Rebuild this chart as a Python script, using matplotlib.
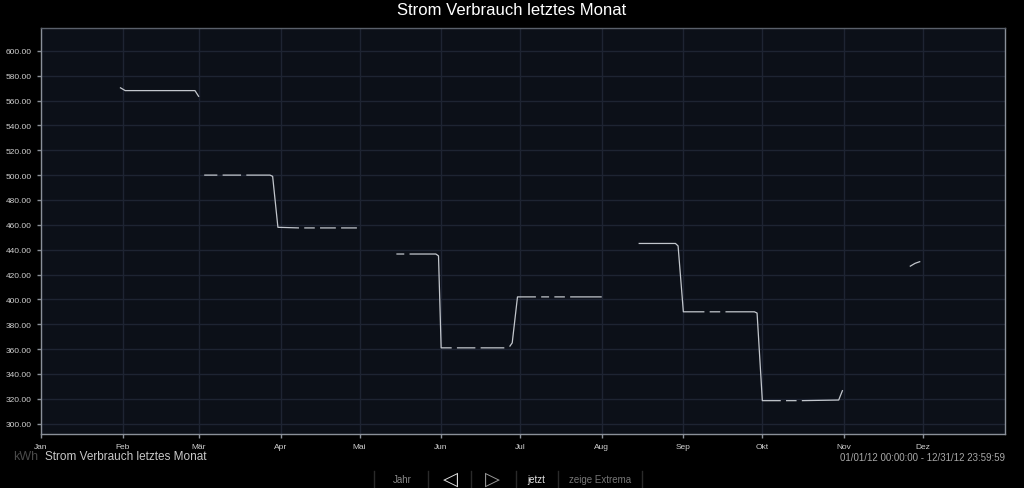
import numpy as np
import pandas as pd
import matplotlib
matplotlib.use("Agg")
import matplotlib.pyplot as plt

nan = np.nan

# daily meter readings (kWh), nan marks gaps in the recorded series
dates = [
    '2012-01-31', '2012-02-02', '2012-02-28 12:00', '2012-03-01',
    '2012-03-01 12:00',
    '2012-03-03', '2012-03-08', '2012-03-08 12:00',
    '2012-03-10', '2012-03-17', '2012-03-17 12:00',
    '2012-03-19', '2012-03-28', '2012-03-29', '2012-03-31', '2012-04-08', '2012-04-08 12:00',
    '2012-04-10', '2012-04-14', '2012-04-14 12:00',
    '2012-04-16', '2012-04-22', '2012-04-22 12:00',
    '2012-04-24', '2012-04-30', '2012-05-01',
    '2012-05-15', '2012-05-18', '2012-05-18 12:00',
    '2012-05-20', '2012-05-30', '2012-05-31', '2012-06-01', '2012-06-05', '2012-06-05 12:00',
    '2012-06-07', '2012-06-14', '2012-06-14 12:00',
    '2012-06-16', '2012-06-25', '2012-06-26',
    '2012-06-27', '2012-06-28', '2012-06-30', '2012-07-07', '2012-07-07 12:00',
    '2012-07-09', '2012-07-12', '2012-07-12 12:00',
    '2012-07-14', '2012-07-18', '2012-07-18 12:00',
    '2012-07-20', '2012-08-01', '2012-08-02',
    '2012-08-15', '2012-08-29', '2012-08-30', '2012-09-01', '2012-09-09', '2012-09-09 12:00',
    '2012-09-11', '2012-09-15', '2012-09-15 12:00',
    '2012-09-17', '2012-09-28', '2012-09-29', '2012-10-01', '2012-10-08', '2012-10-08 12:00',
    '2012-10-10', '2012-10-14', '2012-10-14 12:00',
    '2012-10-16', '2012-10-30', '2012-10-31 12:00', '2012-11-01',
    '2012-11-26', '2012-11-28', '2012-11-30',
]
kwh = [
    570.5, 568.0, 568.0, 563.0,
    nan,
    500.0, 500.0, nan,
    500.0, 500.0, nan,
    500.0, 500.0, 499.0, 458.0, 457.5, nan,
    457.5, 457.5, nan,
    457.5, 457.5, nan,
    457.5, 457.5, nan,
    436.5, 436.5, nan,
    436.5, 436.5, 435.0, 361.0, 361.0, nan,
    361.0, 361.0, nan,
    361.0, 361.0, nan,
    362.0, 365.0, 402.0, 402.0, nan,
    402.0, 402.0, nan,
    402.0, 402.0, nan,
    402.0, 402.0, nan,
    445.0, 445.0, 443.0, 390.0, 390.0, nan,
    390.0, 390.0, nan,
    390.0, 390.0, 389.0, 318.5, 318.5, nan,
    318.5, 318.5, nan,
    318.5, 319.0, 327.0, nan,
    426.5, 429.0, 430.5,
]

months = ['Jan', 'Feb', 'Mär', 'Apr', 'Mai', 'Jun', 'Jul', 'Aug', 'Sep', 'Okt', 'Nov', 'Dez']
month_starts = pd.date_range('2012-01-01', periods=12, freq='MS')
y_ticks = list(range(300, 601, 20))

title = 'Strom Verbrauch letztes Monat'
unit = 'kWh'
period = '01/01/12 00:00:00 - 12/31/12 23:59:59'

plt.rcParams['font.family'] = ['Liberation Sans', 'DejaVu Sans']

fig = plt.figure(figsize=(10.24, 4.89), dpi=100, facecolor='#000000')
ax = fig.add_axes([0.040, 0.110, 0.941, 0.831])
ax.set_facecolor('#0c1018')

x = pd.to_datetime(dates, format='mixed')
ax.plot(x, kwh, color='#c2c6cc', lw=0.9, solid_capstyle='butt')

ax.set_xlim(pd.Timestamp('2012-01-01'), pd.Timestamp('2013-01-01'))
ax.set_ylim(291.5, 618.5)
ax.set_xticks(month_starts)
ax.set_xticklabels(months)
ax.set_yticks(y_ticks)
ax.yaxis.set_major_formatter(matplotlib.ticker.FormatStrFormatter('%.2f'))

ax.grid(True, color='#1e2432', lw=1.0)
ax.set_axisbelow(True)
for s in ax.spines.values():
    s.set_color('#8a9099')
    s.set_linewidth(1.0)
ax.spines['top'].set_color('#5a606a')
ax.tick_params(colors='#8a9099', labelcolor='#d0d0d0', labelsize=6, length=3, width=1)

fig.text(0.5, 0.978, title, color='white', fontsize=12, ha='center', va='center')

# legend line below the plot
fig.text(0.013, 0.065, unit, color='#4a4a4a', fontsize=9, va='center')
fig.text(0.044, 0.065, title, color='#c8c8c8', fontsize=8.5, va='center')
fig.text(0.981, 0.063, period, color='#a8a8a8', fontsize=7, ha='right', va='center')

# navigation bar
for xs in [374, 428, 471, 516, 558, 642]:
    fig.add_artist(plt.Line2D([xs / 1024, xs / 1024], [0.0, 0.035], color='#2a2a2a', lw=1))
fig.text(402 / 1024, 0.018, 'Jahr', color='#8a8a8a', fontsize=7, ha='center', va='center')
fig.text(450 / 1024, 0.020, '◁', color='#e0e0e0', fontsize=14, ha='center', va='center',
         family='DejaVu Sans')
fig.text(492 / 1024, 0.020, '▷', color='#9a9a9a', fontsize=14, ha='center', va='center',
         family='DejaVu Sans')
fig.text(536 / 1024, 0.018, 'jetzt', color='#e0e0e0', fontsize=7, ha='center', va='center')
fig.text(600 / 1024, 0.018, 'zeige Extrema', color='#777777', fontsize=7, ha='center', va='center')

fig.savefig('out.png', dpi=100, facecolor=fig.get_facecolor())
